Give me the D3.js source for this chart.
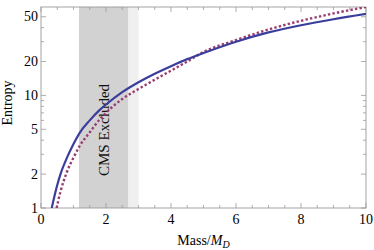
<!DOCTYPE html>
<html>
<head>
<meta charset="utf-8">
<script src="https://cdn.jsdelivr.net/npm/d3@7"></script>
<style>
  body { margin: 0; background: #fff; }
  text { font-family: "Liberation Serif", "DejaVu Serif", serif; }
</style>
</head>
<body>
<script>
// entropy vs mass
const blueMass = [0.33, 0.5, 0.6, 0.8, 1.0, 1.2, 1.5, 1.8, 2.0, 2.5, 3.0, 3.5, 4.0, 4.5, 5, 6, 7, 8, 9, 10];
const blueEntropy = [1, 1.6, 2.0, 2.8, 3.7, 4.7, 6.0, 7.4, 8.3, 10.7, 13.1, 15.6, 18.2, 21.0, 23.8, 30, 36.3, 42, 47.5, 53];
const redMass = [0.48, 0.6, 0.8, 1.0, 1.2, 1.5, 1.8, 2.0, 2.5, 3.0, 3.5, 4.0, 4.5, 5, 6, 7, 8, 9, 10];
const redEntropy = [1, 1.4, 2.1, 2.8, 3.6, 4.7, 6.1, 7.0, 9.3, 11.4, 13.8, 16.6, 20.0, 24.3, 31, 38.5, 46, 53.5, 61];
const excluded = [1.17, 2.68];
const excludedLight = [2.68, 3.0];
const xTicks = [0, 2, 4, 6, 8, 10];
const yTicks = [1, 2, 5, 10, 20, 50];
const yMinor = [3, 4, 6, 7, 8, 9, 30, 40];

const w = 374, h = 250;
const pLeft = 41, pRight = 366, pTop = 7, pBottom = 208;

const svg = d3.select('body').append('svg')
    .attr('width', w)
    .attr('height', h);

const x = d3.scaleLinear().domain([0, 10]).range([pLeft, pRight]);
const y = d3.scaleLog().domain([1, 61]).range([pBottom, pTop]);

// shaded bands
svg.append('rect')
    .attr('x', x(excludedLight[0])).attr('y', pTop)
    .attr('width', x(excludedLight[1]) - x(excludedLight[0]))
    .attr('height', pBottom - pTop)
    .attr('fill', '#efefef');
svg.append('rect')
    .attr('x', x(excluded[0])).attr('y', pTop)
    .attr('width', x(excluded[1]) - x(excluded[0]))
    .attr('height', pBottom - pTop)
    .attr('fill', '#d2d2d2');

svg.append('text')
    .attr('transform', `translate(${x(1.95) + 5}, 130) rotate(-90)`)
    .attr('text-anchor', 'middle')
    .attr('font-size', '15px')
    .attr('fill', '#111')
    .text('CMS Excluded');

// frame + ticks
const frameCol = '#9a9a9a';
const xMinorTicks = d3.range(0, 10.01, 0.5).filter(d => d % 2 !== 0);

function addTicks(sel, vals, len, horizontal) {
    vals.forEach(v => {
        if (horizontal) {
            sel.append('line').attr('x1', x(v)).attr('x2', x(v)).attr('y1', pBottom).attr('y2', pBottom - len);
            sel.append('line').attr('x1', x(v)).attr('x2', x(v)).attr('y1', pTop).attr('y2', pTop + len);
        } else {
            sel.append('line').attr('y1', y(v)).attr('y2', y(v)).attr('x1', pLeft).attr('x2', pLeft + len);
            sel.append('line').attr('y1', y(v)).attr('y2', y(v)).attr('x1', pRight).attr('x2', pRight - len);
        }
    });
}
const tg = svg.append('g').attr('stroke', frameCol).attr('stroke-width', 0.8);
addTicks(tg, xTicks, 5, true);
addTicks(tg, xMinorTicks, 3, true);
addTicks(tg, yTicks, 5, false);
addTicks(tg, yMinor, 3, false);

svg.append('rect')
    .attr('x', pLeft).attr('y', pTop)
    .attr('width', pRight - pLeft).attr('height', pBottom - pTop)
    .attr('fill', 'none')
    .attr('stroke', frameCol)
    .attr('stroke-width', 0.9);

// tick labels
svg.append('g').selectAll('text').data(xTicks).enter().append('text')
    .attr('x', d => x(d))
    .attr('y', 224)
    .attr('text-anchor', 'middle')
    .attr('font-size', '14px')
    .text(d => d);
svg.append('g').selectAll('text').data(yTicks).enter().append('text')
    .attr('x', 38)
    .attr('y', d => y(d) + 4.5)
    .attr('text-anchor', 'end')
    .attr('font-size', '14px')
    .text(d => d);

// axis labels
const xl = svg.append('text')
    .attr('x', x(5))
    .attr('y', 245)
    .attr('text-anchor', 'middle')
    .attr('font-size', '14px');
xl.append('tspan').text('Mass/');
xl.append('tspan').attr('font-style', 'italic').text('M');
xl.append('tspan').attr('font-style', 'italic').attr('font-size', '10px').attr('dy', 3).text('D');

svg.append('text')
    .attr('transform', `translate(12, 103) rotate(-90)`)
    .attr('text-anchor', 'middle')
    .attr('font-size', '14px')
    .text('Entropy');

// curves
svg.append('clipPath').attr('id', 'plotclip')
    .append('rect').attr('x', pLeft).attr('y', pTop).attr('width', pRight - pLeft).attr('height', pBottom - pTop);

const line = d3.line()
    .x(d => x(d[0]))
    .y(d => y(d[1]))
    .curve(d3.curveMonotoneX);

svg.append('path')
    .datum(redMass.map((m, i) => [m, redEntropy[i]]))
    .attr('clip-path', 'url(#plotclip)')
    .attr('d', line)
    .attr('fill', 'none')
    .attr('stroke', '#993d71')
    .attr('stroke-width', 2.4)
    .attr('stroke-dasharray', '2.4,2.2');

svg.append('path')
    .datum(blueMass.map((m, i) => [m, blueEntropy[i]]))
    .attr('clip-path', 'url(#plotclip)')
    .attr('d', line)
    .attr('fill', 'none')
    .attr('stroke', '#3b3d9c')
    .attr('stroke-width', 2.2);
</script>
</body>
</html>
